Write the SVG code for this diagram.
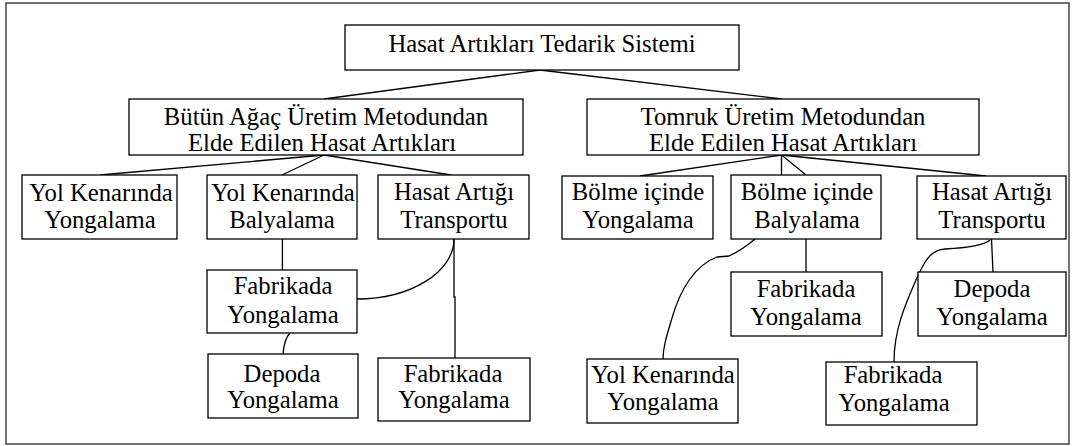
<svg xmlns="http://www.w3.org/2000/svg" width="1075" height="446" viewBox="0 0 1075 446">
<style>
.box{fill:#fff;stroke:#000;stroke-width:1.3}
.t{font-size:24.7px;fill:#000;text-anchor:middle}
.c{fill:none;stroke:#000;stroke-width:1.3}
</style>
<rect x="0" y="0" width="1075" height="446" fill="#fff"/>
<rect x="6" y="3" width="1063" height="441" fill="none" stroke="#444" stroke-width="1.5"/>
<g id="connectors">
<line class="c" x1="540" y1="70" x2="324" y2="99"/>
<line class="c" x1="540" y1="70" x2="782" y2="99"/>
<line class="c" x1="324" y1="155" x2="100" y2="175"/>
<line class="c" x1="324" y1="155" x2="282" y2="175"/>
<line class="c" x1="324" y1="155" x2="451" y2="175"/>
<line class="c" x1="781.5" y1="155" x2="640" y2="176"/>
<line class="c" x1="781.5" y1="155" x2="781.5" y2="175"/>
<line class="c" x1="781.5" y1="155" x2="806" y2="175"/>
<line class="c" x1="781.5" y1="155" x2="986" y2="176"/>
<line class="c" x1="282.4" y1="239" x2="282.4" y2="270"/>
<path class="c" d="M290,333 C286,337 284,342 283,354"/>
<path class="c" d="M454,239 C454,272 410.5,299 357,299"/>
<path class="c" d="M454,239 L454,297 L455,297 L455,358"/>
<line class="c" x1="806" y1="239" x2="806" y2="272"/>
<line class="c" x1="991.5" y1="239" x2="993" y2="272"/>
<path class="c" d="M755,239 Q742,250 729,256 L717,257 C695,265 680,290 672,318 C666,338 663,348 663,359"/>
<path class="c" stroke-width="2" d="M990,240 C983,246 965,248 945,249 C930,250 924,262 916,280 C905,305 894,330 894,362"/>
</g>
<g font-family="'Liberation Serif', 'Times New Roman', 'DejaVu Serif', serif">
<g id="n0"><rect class="box" x="345" y="25" width="394" height="45"/><text class="t" x="542" y="52">Hasat Artıkları Tedarik Sistemi</text></g>
<g id="n1"><rect class="box" x="129" y="99" width="394" height="56"/><text class="t" x="326" y="125">Bütün Ağaç Üretim Metodundan</text><text class="t" x="322" y="151">Elde Edilen Hasat Artıkları</text></g>
<g id="n2"><rect class="box" x="587" y="99" width="392" height="56"/><text class="t" x="783" y="125">Tomruk Üretim Metodundan</text><text class="t" x="783" y="151">Elde Edilen Hasat Artıkları</text></g>
<g id="n3"><rect class="box" x="22" y="175" width="155" height="64"/><text class="t" x="101" y="201">Yol Kenarında</text><text class="t" x="100" y="228">Yongalama</text></g>
<g id="n4"><rect class="box" x="207" y="175" width="150" height="64"/><text class="t" x="283" y="201">Yol Kenarında</text><text class="t" x="282" y="228">Balyalama</text></g>
<g id="n5"><rect class="box" x="378" y="175" width="151" height="64"/><text class="t" x="454" y="200">Hasat Artığı</text><text class="t" x="454" y="228">Transportu</text></g>
<g id="n6"><rect class="box" x="562" y="176" width="151" height="63"/><text class="t" x="638" y="200">Bölme içinde</text><text class="t" x="638" y="228">Yongalama</text></g>
<g id="n7"><rect class="box" x="731" y="175" width="150" height="64"/><text class="t" x="807" y="200">Bölme içinde</text><text class="t" x="807" y="228">Balyalama</text></g>
<g id="n8"><rect class="box" x="917" y="176" width="149" height="63"/><text class="t" x="992" y="200">Hasat Artığı</text><text class="t" x="992" y="228">Transportu</text></g>
<g id="n9"><rect class="box" x="207" y="270" width="150" height="63"/><text class="t" x="283" y="294">Fabrikada</text><text class="t" x="283" y="323">Yongalama</text></g>
<g id="n10"><rect class="box" x="208" y="354" width="150" height="64"/><text class="t" x="282" y="382">Depoda</text><text class="t" x="283" y="408">Yongalama</text></g>
<g id="n11"><rect class="box" x="378" y="358" width="152" height="63"/><text class="t" x="453" y="382">Fabrikada</text><text class="t" x="454" y="408">Yongalama</text></g>
<g id="n12"><rect class="box" x="731" y="272" width="151" height="64"/><text class="t" x="806" y="297">Fabrikada</text><text class="t" x="806" y="325">Yongalama</text></g>
<g id="n13"><rect class="box" x="918" y="272" width="148" height="64"/><text class="t" x="992" y="297">Depoda</text><text class="t" x="992" y="325">Yongalama</text></g>
<g id="n14"><rect class="box" x="587" y="359" width="151" height="64"/><text class="t" x="663" y="383">Yol Kenarında</text><text class="t" x="663" y="410">Yongalama</text></g>
<g id="n15"><rect class="box" x="826" y="362" width="151" height="63"/><text class="t" x="893" y="383">Fabrikada</text><text class="t" x="894" y="411">Yongalama</text></g>
</g>
</svg>
